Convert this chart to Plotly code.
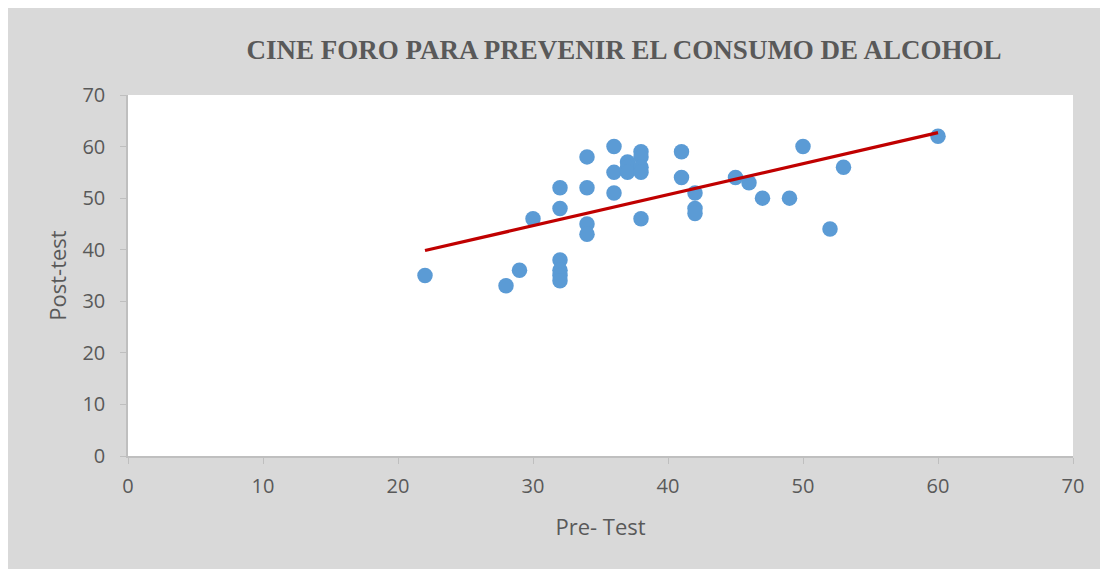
import numpy as np
import plotly.graph_objects as go

title_text = "CINE FORO PARA PREVENIR EL CONSUMO DE ALCOHOL"
x_title = "Pre- Test"
y_title = "Post-test"

pre_test = [22, 28, 29, 30, 32, 32, 32, 32, 32, 32, 34, 34, 34, 34, 36, 36, 36,
            37, 37, 37, 38, 38, 38, 38, 38, 41, 41, 42, 42, 42, 45, 46, 47, 49,
            50, 52, 53, 60]
post_test = [35, 33, 36, 46, 52, 48, 38, 36, 35, 34, 58, 52, 45, 43, 60, 55, 51,
             57, 56, 55, 59, 58, 56, 55, 46, 59, 54, 51, 48, 47, 54, 53, 50, 50,
             60, 44, 56, 62]

x_ticks = [0, 10, 20, 30, 40, 50, 60, 70]
y_ticks = [0, 10, 20, 30, 40, 50, 60, 70]

# linear trendline (least squares)
slope, intercept = np.polyfit(pre_test, post_test, 1)
trend_x = [min(pre_test), max(pre_test)]
trend_y = [slope * v + intercept for v in trend_x]

fig = go.Figure()
fig.add_trace(go.Scatter(
    x=pre_test, y=post_test, mode="markers",
    marker=dict(size=15.5, color="#5B9BD5", line=dict(width=0)),
    showlegend=False, hoverinfo="x+y"))
fig.add_trace(go.Scatter(
    x=trend_x, y=trend_y, mode="lines",
    line=dict(color="#C00000", width=3.2),
    showlegend=False, hoverinfo="skip"))

W, H = 1108, 569

fig.update_layout(
    width=W, height=H,
    margin=dict(l=120, r=43, t=87, b=121),
    paper_bgcolor="#D9D9D9",
    plot_bgcolor="white",
    title=dict(text=title_text, x=616 / W, y=1 - 42 / H,
               xanchor="center", yanchor="middle",
               font=dict(family="Liberation Serif", size=27, color="#595959",
                         weight="bold")),
    font=dict(family="Open Sans", color="#595959"),
)
fig.update_xaxes(
    range=[0, 70], tickvals=x_ticks, ticktext=[str(v) for v in x_ticks],
    showgrid=False, zeroline=False, showline=True, linecolor="#BFBFBF",
    linewidth=1.5, ticks="outside", ticklen=6, tickcolor="#BFBFBF",
    ticklabelstandoff=5,
    tickfont=dict(size=20, color="#595959", family="Open Sans"),
    title=dict(text=x_title, font=dict(size=22, color="#595959"), standoff=22),
)
fig.update_yaxes(
    range=[0, 70], tickvals=y_ticks, ticktext=[str(v) for v in y_ticks],
    showgrid=False, zeroline=False, showline=True, linecolor="#BFBFBF",
    linewidth=1.5, ticks="outside", ticklen=6, tickcolor="#BFBFBF",
    ticklabelstandoff=11,
    tickfont=dict(size=20, color="#595959", family="Open Sans"),
    title=dict(text=y_title, font=dict(size=22, color="#595959"), standoff=10),
)

fig.write_html("out.html")
